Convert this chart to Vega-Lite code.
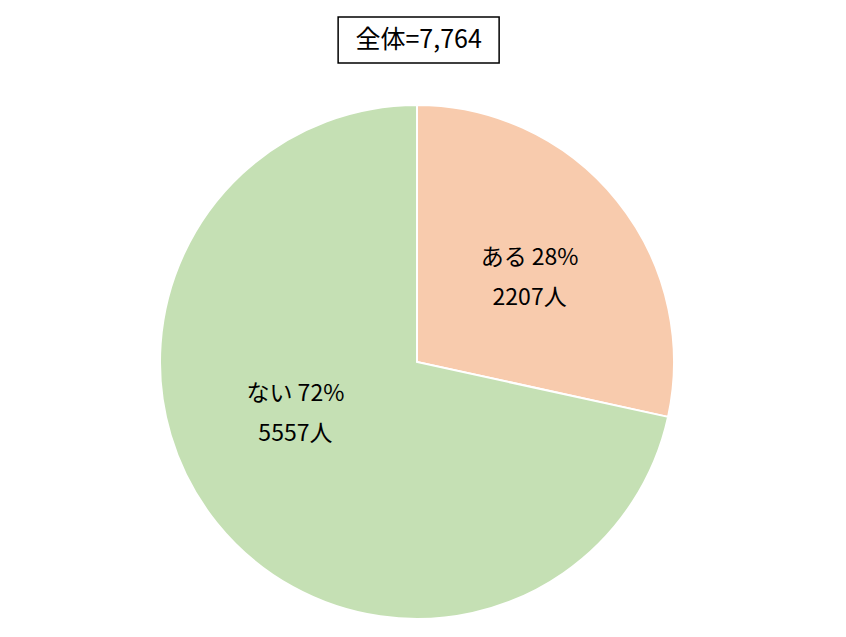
{
  "$schema": "https://vega.github.io/schema/vega-lite/v6.json",
  "padding": {"left": 156, "top": 16, "right": 0, "bottom": 0},
  "autosize": {"type": "pad"},
  "background": "white",
  "config": {"font": "Noto Sans CJK JP", "view": {"stroke": null}},
  "spacing": 37,
  "center": true,
  "vconcat": [
    {
      "width": 161,
      "height": 46,
      "view": {"stroke": "black", "strokeWidth": 1.5},
      "data": {"values": [{"t": "全体=7,764"}]},
      "mark": {"type": "text", "fontSize": 25, "color": "black"},
      "encoding": {"text": {"field": "t", "type": "nominal"}}
    },
    {
      "width": 514,
      "height": 514,
      "data": {"values": [
        {"answer": "ある", "count": 2207, "label": "ある 28%\n2207人", "order": 1},
        {"answer": "ない", "count": 5557, "label": "ない 72%\n5557人", "order": 2}
      ]},
      "encoding": {
        "theta": {"field": "count", "type": "quantitative", "stack": true},
        "order": {"field": "order", "type": "quantitative"}
      },
      "layer": [
        {
          "mark": {"type": "arc", "stroke": "white", "strokeWidth": 2},
          "encoding": {
            "color": {"field": "answer", "type": "nominal", "scale": {"domain": ["ある", "ない"], "range": ["#F8CBAD", "#C5E0B4"]}, "legend": null}
          }
        },
        {
          "mark": {"type": "text", "radius": 142, "dx": 2, "dy": -15, "fontSize": 23, "lineBreak": "\n", "lineHeight": 40, "color": "black"},
          "encoding": {"text": {"condition": {"test": "datum.answer == 'ある'", "field": "label"}, "value": ""}}
        },
        {
          "mark": {"type": "text", "radius": 133, "dx": -18, "dy": -51, "fontSize": 23, "lineBreak": "\n", "lineHeight": 40, "color": "black"},
          "encoding": {"text": {"condition": {"test": "datum.answer == 'ない'", "field": "label"}, "value": ""}}
        }
      ]
    }
  ]
}
